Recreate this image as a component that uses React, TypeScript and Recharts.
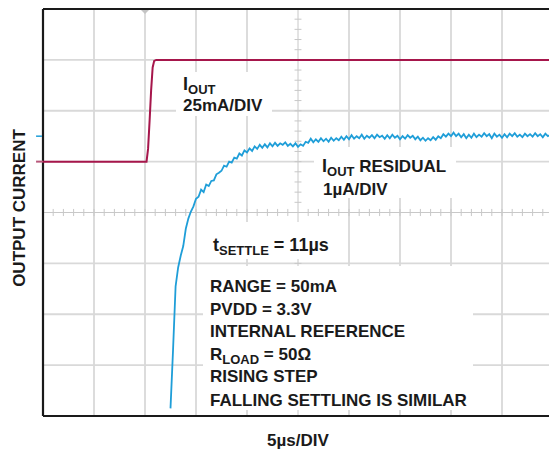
import { LineChart, Line, XAxis, YAxis, CartesianGrid, ReferenceLine, ReferenceDot } from 'recharts'

// x in µs (5µs/DIV, 10 divisions), y in screen divisions (8 divisions, 0 = centre)
const X_GRID = [5, 10, 15, 20, 30, 35, 40, 45]
const Y_GRID = [-3, -2, -1, 1, 2, 3]
const X_MINOR = [1, 2, 3, 4, 5, 6, 7, 8, 9, 10, 11, 12, 13, 14, 15, 16, 17, 18, 19, 20, 21, 22, 23, 24,
  26, 27, 28, 29, 30, 31, 32, 33, 34, 35, 36, 37, 38, 39, 40, 41, 42, 43, 44, 45, 46, 47, 48, 49]
const Y_MINOR = [-3.8, -3.6, -3.4, -3.2, -3, -2.8, -2.6, -2.4, -2.2, -2, -1.8, -1.6, -1.4, -1.2, -1, -0.8, -0.6, -0.4, -0.2,
  0.2, 0.4, 0.6, 0.8, 1, 1.2, 1.4, 1.6, 1.8, 2, 2.2, 2.4, 2.6, 2.8, 3, 3.2, 3.4, 3.6, 3.8]

// IOUT step, 25mA/DIV
const RED_T = [0, 10.15, 10.3, 10.45, 10.6, 10.75, 10.9, 11.1, 50]
const RED_V = [1, 1, 1.25, 1.8, 2.4, 2.85, 2.98, 3, 3]

// IOUT residual, 1µA/DIV, sampled every 0.25µs from 12.5µs
const BLUE_START = 12.5
const BLUE_STEP = 0.25
const BLUE_V = [
  -3.85, -2.7, -1.45, -1.08, -0.85, -0.66, -0.32, -0.12, 0.02, 0.12,
  0.27, 0.31, 0.45, 0.4, 0.55, 0.52, 0.62, 0.63, 0.75, 0.78,
  0.82, 0.92, 0.9, 1.0, 0.98, 1.08, 1.06, 1.16, 1.12, 1.22,
  1.18, 1.26, 1.21, 1.3, 1.25, 1.33, 1.27, 1.34, 1.28, 1.36,
  1.3, 1.37, 1.31, 1.36, 1.33, 1.38, 1.31, 1.35, 1.3, 1.36,
  1.29, 1.34, 1.31, 1.39, 1.37, 1.45, 1.38, 1.44, 1.39, 1.46,
  1.4, 1.45, 1.39, 1.47, 1.41, 1.46, 1.42, 1.49, 1.43, 1.5,
  1.44, 1.52, 1.45, 1.5, 1.46, 1.53, 1.45, 1.51, 1.47, 1.52,
  1.46, 1.53, 1.48, 1.51, 1.45, 1.52, 1.46, 1.53, 1.47, 1.51,
  1.44, 1.5, 1.45, 1.52, 1.47, 1.51, 1.44, 1.49, 1.42, 1.47,
  1.41, 1.46, 1.42, 1.48, 1.43, 1.5, 1.46, 1.54, 1.49, 1.55,
  1.5, 1.57, 1.5, 1.55, 1.48, 1.54, 1.46, 1.53, 1.47, 1.55,
  1.48, 1.53, 1.49, 1.56, 1.5, 1.54, 1.46, 1.55, 1.49, 1.53,
  1.47, 1.54, 1.48, 1.55, 1.5, 1.56, 1.49, 1.53, 1.48, 1.55,
  1.5, 1.54, 1.49, 1.56, 1.5, 1.54, 1.48, 1.55, 1.5, 1.53,
  1.49,
]

const redData = RED_T.map((t, i) => ({ t, v: RED_V[i] }))
const blueData = BLUE_V.map((v, i) => ({ t: BLUE_START + i * BLUE_STEP, v }))

const RED = '#a6164b'
const BLUE = '#1f9ed8'
const GRID = '#d9d9d9'
const MINOR = '#c8c8c8'
const INK = '#1a1a1a'
const FONT = '"Liberation Sans", Arial, sans-serif'

function Trigger({ cx, cy }: { cx?: number; cy?: number }) {
  if (cx == null || cy == null) return null
  return <path d={`M${cx - 4},${cy + 1} L${cx + 4},${cy + 1} L${cx},${cy + 5} Z`} fill="#c4c4c4" />
}

export default function App() {
  return (
    <div style={{ position: 'absolute', left: 0, top: 0, width: 549, height: 449, overflow: 'hidden', background: '#fff' }}>
      <LineChart width={560} height={449} margin={{ top: 9, right: 7, bottom: 33, left: 43 }}>
        <XAxis type="number" dataKey="t" domain={[0, 50]} ticks={X_GRID} allowDataOverflow hide />
        <YAxis type="number" domain={[-4, 4]} ticks={Y_GRID} allowDataOverflow hide />
        <CartesianGrid stroke={GRID} strokeWidth={1.8} />

        {/* centre cross with minor ticks */}
        <ReferenceLine x={25} stroke={MINOR} strokeWidth={1} />
        <ReferenceLine y={0} stroke={MINOR} strokeWidth={1} />
        {X_MINOR.map((t) => (
          <ReferenceLine key={`mx${t}`} segment={[{ x: t, y: -0.07 }, { x: t, y: 0.07 }]} stroke={MINOR} />
        ))}
        {Y_MINOR.map((d) => (
          <ReferenceLine key={`my${d}`} segment={[{ x: 24.66, y: d }, { x: 25.34, y: d }]} stroke={MINOR} />
        ))}

        {/* frame */}
        <ReferenceLine x={0} stroke="#1a1a1a" strokeWidth={2.2} />
        <ReferenceLine y={4} stroke="#1a1a1a" strokeWidth={2.2} />
        <ReferenceLine y={-4} stroke="#1a1a1a" strokeWidth={2.2} />

        {/* channel ground markers and trigger position */}
        <ReferenceLine segment={[{ x: -0.68, y: 1.5 }, { x: -0.1, y: 1.5 }]} stroke={BLUE} strokeWidth={1.5} ifOverflow="visible" />
        <ReferenceLine segment={[{ x: -0.68, y: 1 }, { x: 0, y: 1 }]} stroke="#b8577a" strokeWidth={2} ifOverflow="visible" />
        <ReferenceDot x={10} y={4} r={4} shape={<Trigger />} ifOverflow="visible" />

        <Line data={redData} dataKey="v" type="linear" stroke={RED} strokeWidth={2} dot={false} isAnimationActive={false} />
        <Line data={blueData} dataKey="v" type="linear" stroke={BLUE} strokeWidth={1.8} dot={false} isAnimationActive={false} />
      </LineChart>

      <svg width={549} height={449} style={{ position: 'absolute', left: 0, top: 0 }} fontFamily={FONT} fontWeight="bold" fill={INK}>
        <rect x={176} y={72} width={96} height={44} fill="#fff" />
        <rect x={314} y={147} width={142} height={51} fill="#fff" />
        <rect x={203} y={222} width={142} height={37} fill="#fff" />
        <rect x={203} y={266} width={270} height={144} fill="#fff" />

        <text x={183} y={90} fontSize={18}>I<tspan fontSize={13} dy={4}>OUT</tspan></text>
        <text x={183} y={111} fontSize={17}>25mA/DIV</text>

        <text x={322} y={172} fontSize={18}>I<tspan fontSize={13} dy={4}>OUT</tspan><tspan dy={-4} fontSize={17}> RESIDUAL</tspan></text>
        <text x={323} y={195} fontSize={17}>1µA/DIV</text>

        <text x={213} y={251} fontSize={18}>t<tspan fontSize={13} dy={4}>SETTLE</tspan><tspan dy={-4}> = 11µs</tspan></text>

        <text x={210} y={292} fontSize={17}>RANGE = 50mA</text>
        <text x={210} y={314.5} fontSize={17}>PVDD = 3.3V</text>
        <text x={210} y={337} fontSize={17}>INTERNAL REFERENCE</text>
        <text x={210} y={359.5} fontSize={17}>R<tspan fontSize={13} dy={4}>LOAD</tspan><tspan dy={-4} fontSize={17}> = 50Ω</tspan></text>
        <text x={210} y={382} fontSize={17}>RISING STEP</text>
        <text x={210} y={406} fontSize={17}>FALLING SETTLING IS SIMILAR</text>

        <text transform="translate(25,208) rotate(-90)" textAnchor="middle" fontSize={17}>OUTPUT CURRENT</text>
        <text x={298} y={446} textAnchor="middle" fontSize={17}>5µs/DIV</text>
      </svg>
    </div>
  )
}
